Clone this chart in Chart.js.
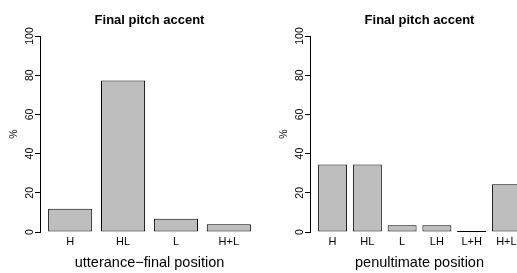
<!DOCTYPE html>
<html>
<head>
<meta charset="utf-8">
<script src="https://cdn.jsdelivr.net/npm/chart.js@4/dist/chart.umd.min.js"></script>
<style>
    html, body { margin: 0; padding: 0; background: #fff; }
    body { width: 517px; height: 273px; overflow: hidden; position: relative; }
    #wrap { position: absolute; left: 0; top: 0; width: 540px; height: 273px; }
    canvas { position: absolute; top: 0; }
</style>
</head>
<body>
<div id="wrap">
    <canvas id="leftChart" width="270" height="273" style="left:0px"></canvas>
    <canvas id="rightChart" width="270" height="273" style="left:270px"></canvas>
</div>
<script>
// Data (percent)
var panelTitle = 'Final pitch accent';
var leftCats = ['H', 'HL', 'L', 'H+L'];
var leftVals = [11.8, 77.3, 6.8, 3.9];
var leftXTitle = 'utterance\u2212final position';

var rightCats = ['H', 'HL', 'L', 'LH', 'L+H', 'H+L'];
var rightVals = [34.5, 34.5, 3.4, 3.4, 0, 24.3];
var rightXTitle = 'penultimate position';

var yTicks = [0, 20, 40, 60, 80, 100];
var yTitle = '%';

Chart.defaults.font.family = "'Liberation Sans', Arial, Helvetica, sans-serif";
Chart.defaults.color = '#000';

// R-style barplot layout: width 1, space 0.2, axis padded by 4%
function barCenters(n) {
    var c = [];
    for (var i = 0; i < n; i++) c.push(0.7 + 1.2 * i);
    return c;
}

// panel title, rotated y tick labels, and the flat outline R draws for 0 bars
var rPlotExtras = {
    id: 'rPlotExtras',
    afterDatasetsDraw: function(chart) {
        var ctx = chart.ctx;
        var meta = chart.getDatasetMeta(0);
        var vals = chart.data.datasets[0].data;
        ctx.save();
        ctx.strokeStyle = '#000';
        ctx.lineWidth = 1;
        meta.data.forEach(function(bar, i) {
            if (vals[i].y !== 0) return;
            var yy = Math.round(bar.base) - 0.5;
            ctx.beginPath();
            ctx.moveTo(bar.x - bar.width / 2, yy);
            ctx.lineTo(bar.x + bar.width / 2, yy);
            ctx.stroke();
        });
        ctx.restore();
    },
    afterDraw: function(chart) {
        var ctx = chart.ctx;
        var area = chart.chartArea;
        var y = chart.scales.y;
        ctx.save();
        ctx.fillStyle = '#000';
        ctx.font = "bold 13px 'Liberation Sans', Arial, sans-serif";
        ctx.textAlign = 'center';
        ctx.textBaseline = 'middle';
        ctx.fillText(panelTitle, (area.left + area.right) / 2, 20.5);

        ctx.font = "10.5px 'Liberation Sans', Arial, sans-serif";
        y.ticks.forEach(function(t) {
            var py = y.getPixelForValue(t.value);
            ctx.save();
            ctx.translate(area.left - 10, py);
            ctx.rotate(-Math.PI / 2);
            ctx.fillText(String(t.value), 0, 0);
            ctx.restore();
        });
        ctx.restore();
    }
};

function makeChart(id, cats, vals, xTitle) {
    var n = cats.length;
    var centers = barCenters(n);
    var lo = 0.2, hi = 1.2 * n;
    var pad = 0.04 * (hi - lo);
    var points = vals.map(function(v, i) { return { x: centers[i], y: v }; });

    return new Chart(document.getElementById(id).getContext('2d'), {
        type: 'bar',
        data: {
            datasets: [{
                data: points,
                backgroundColor: '#bebebe',
                borderColor: '#000',
                borderWidth: 1,
                borderSkipped: false,
                barPercentage: 1,
                categoryPercentage: 1 / 1.2
            }]
        },
        options: {
            responsive: false,
            animation: false,
            layout: { padding: { left: 0, right: 11, top: 36, bottom: 0 } },
            plugins: { legend: { display: false }, tooltip: { enabled: false } },
            scales: {
                x: {
                    type: 'linear',
                    min: lo - pad,
                    max: hi + pad,
                    offset: false,
                    grid: { display: false, drawTicks: false },
                    border: { display: false },
                    afterBuildTicks: function(scale) {
                        scale.ticks = centers.map(function(c) { return { value: c }; });
                    },
                    afterFit: function(scale) { scale.height = 41; },
                    ticks: {
                        autoSkip: false,
                        maxRotation: 0,
                        padding: 3,
                        font: { size: 11 },
                        callback: function(value, index) { return cats[index]; }
                    },
                    title: {
                        display: true,
                        text: xTitle,
                        font: { size: 14.5 },
                        padding: { top: 0, bottom: 1 }
                    }
                },
                y: {
                    min: 0,
                    max: 100,
                    afterBuildTicks: function(scale) {
                        scale.ticks = yTicks.map(function(v) { return { value: v }; });
                    },
                    afterFit: function(scale) { scale.width = 40; },
                    grid: { drawOnChartArea: false, drawTicks: true, tickLength: 5, color: '#000' },
                    border: { display: true, color: '#000', width: 1 },
                    ticks: { display: false },
                    title: {
                        display: true,
                        text: yTitle,
                        font: { size: 10.5 },
                        padding: { top: 7.5, bottom: 0 }
                    }
                }
            }
        },
        plugins: [rPlotExtras]
    });
}

var leftChart = makeChart('leftChart', leftCats, leftVals, leftXTitle);
var rightChart = makeChart('rightChart', rightCats, rightVals, rightXTitle);
</script>
</body>
</html>
